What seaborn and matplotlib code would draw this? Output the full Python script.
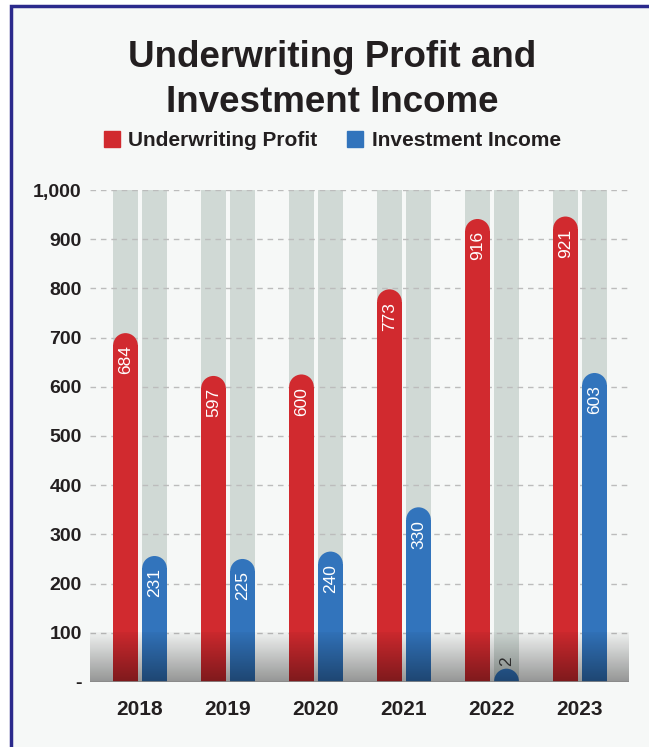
import numpy as np
import pandas as pd
import matplotlib
matplotlib.use("Agg")
import matplotlib.pyplot as plt
from matplotlib.lines import Line2D
from matplotlib.patches import Rectangle
import seaborn as sns

# ---- data ----
years = ["2018", "2019", "2020", "2021", "2022", "2023"]
underwriting_profit = [684, 597, 600, 773, 916, 921]
investment_income = [231, 225, 240, 330, 2, 603]
series_names = ["Underwriting Profit", "Investment Income"]
y_ticks = [0, 100, 200, 300, 400, 500, 600, 700, 800, 900, 1000]
y_max = 1000

RED = "#d12a2f"
BLUE = "#3274bc"
TRACK = "#d0d9d5"
INK = "#231f20"
PANEL = "#f6f8f7"
FRAME = "#2b2a8c"

sns.set_theme(style="white")
plt.rcParams["font.family"] = ["Liberation Sans", "DejaVu Sans"]

df = pd.DataFrame({
    "year": years * 2,
    "series": [series_names[0]] * len(years) + [series_names[1]] * len(years),
    "value": underwriting_profit + investment_income,
})
df_track = df.assign(value=y_max)

W, H = 649, 747
fig = plt.figure(figsize=(W / 100, H / 100), dpi=100, facecolor="white")

# framed panel
fig.patches.append(Rectangle((11 / W, -0.05), 1.2, 1.05 - 6 / H, transform=fig.transFigure,
                             facecolor=PANEL, edgecolor=FRAME, linewidth=2.5, zorder=-10))

ax = fig.add_axes([90 / W, 1 - 682 / H, 539 / W, 492 / H])
ax.set_facecolor("none")

bar_w, bar_gap = 0.66, 0.15
# grey tracks behind each bar
sns.barplot(data=df_track, x="year", y="value", hue="series", order=years, hue_order=series_names,
            palette=[TRACK, TRACK], width=bar_w, gap=bar_gap, saturation=1, legend=False,
            ax=ax, zorder=1, linewidth=0)
# dashed grid above the tracks
for t in y_ticks[1:]:
    ax.axhline(t, color="#bcbcbc", linewidth=1, linestyle=(0, (4, 3.5)), zorder=1.5)

n_track = len(ax.patches)
sns.barplot(data=df, x="year", y="value", hue="series", order=years, hue_order=series_names,
            palette=[RED, BLUE], width=bar_w, gap=bar_gap, saturation=1, legend=False,
            ax=ax, zorder=2, linewidth=0)

x0, x1 = -0.568, 5.557
ax.set_xlim(x0, x1)
ax.set_ylim(0, y_max)

bars = ax.patches[n_track:]
xs = np.array([p.get_x() + p.get_width() / 2 for p in bars])
vals = np.array([p.get_height() for p in bars])
cols = [RED] * len(years) + [BLUE] * len(years)

# rounded caps: circle with the bar's diameter centred on each bar top
ax_w_pt = 539 / 100 * 72
diam_pt = bars[0].get_width() / (x1 - x0) * ax_w_pt
ax.scatter(xs, vals, s=diam_pt ** 2, marker="o", c=cols, linewidths=0, zorder=2)

# value labels
for x, v in zip(xs, vals):
    v = int(round(v))
    if v >= 60:
        ax.annotate(f"{v}", (x, v), xytext=(0, 0), textcoords="offset points",
                    rotation=90, ha="center", va="top", color="white", fontsize=12.5, zorder=6)
    else:
        ax.annotate(f"{v}", (x, v), xytext=(0, diam_pt / 2 + 2), textcoords="offset points",
                    rotation=90, ha="center", va="bottom", color="#2d2d2d", fontsize=12.5, zorder=6)

# dark fade along the floor of the chart
fade = np.zeros((256, 2, 4))
alpha = np.linspace(0.0, 1.0, 256) * 0.37 + 0.03
fade[..., 3] = alpha[:, None]
ax.imshow(fade, extent=(x0, x1, 0, 100), origin="upper", aspect="auto",
          interpolation="bilinear", zorder=3)
ax.set_xlim(x0, x1)
ax.set_ylim(0, y_max)
ax.axhline(0, color="#8a8a8a", linewidth=1.2, zorder=4)

for s in ax.spines.values():
    s.set_visible(False)
ax.set_yticks(y_ticks)
ax.set_yticklabels(["-" if t == 0 else f"{t:,}" for t in y_ticks])
ax.tick_params(axis="y", length=0, pad=6, labelsize=14, labelcolor=INK)
ax.tick_params(axis="x", length=0, pad=13, labelsize=15, labelcolor=INK)
for lab in ax.get_yticklabels() + ax.get_xticklabels():
    lab.set_fontweight("bold")
ax.set_xlabel("")
ax.set_ylabel("")

# title
fig.text(332 / W, 1 - 67 / H, "Underwriting Profit and", ha="center", va="baseline",
         fontsize=26.5, fontweight="bold", color=INK)
fig.text(332 / W, 1 - 112 / H, "Investment Income", ha="center", va="baseline",
         fontsize=26.5, fontweight="bold", color=INK)

# legend
handles = [Line2D([], [], marker="s", linestyle="none", markersize=11.5, color=c) for c in (RED, BLUE)]
fig.legend(handles, series_names, loc="center", bbox_to_anchor=(332 / W, 1 - 141 / H), ncol=2,
           frameon=False, handlelength=0.8, handletextpad=0.4, columnspacing=1.4,
           prop={"weight": "bold", "size": 15}, labelcolor=INK)

fig.savefig("out.png", dpi=100, facecolor="white")
